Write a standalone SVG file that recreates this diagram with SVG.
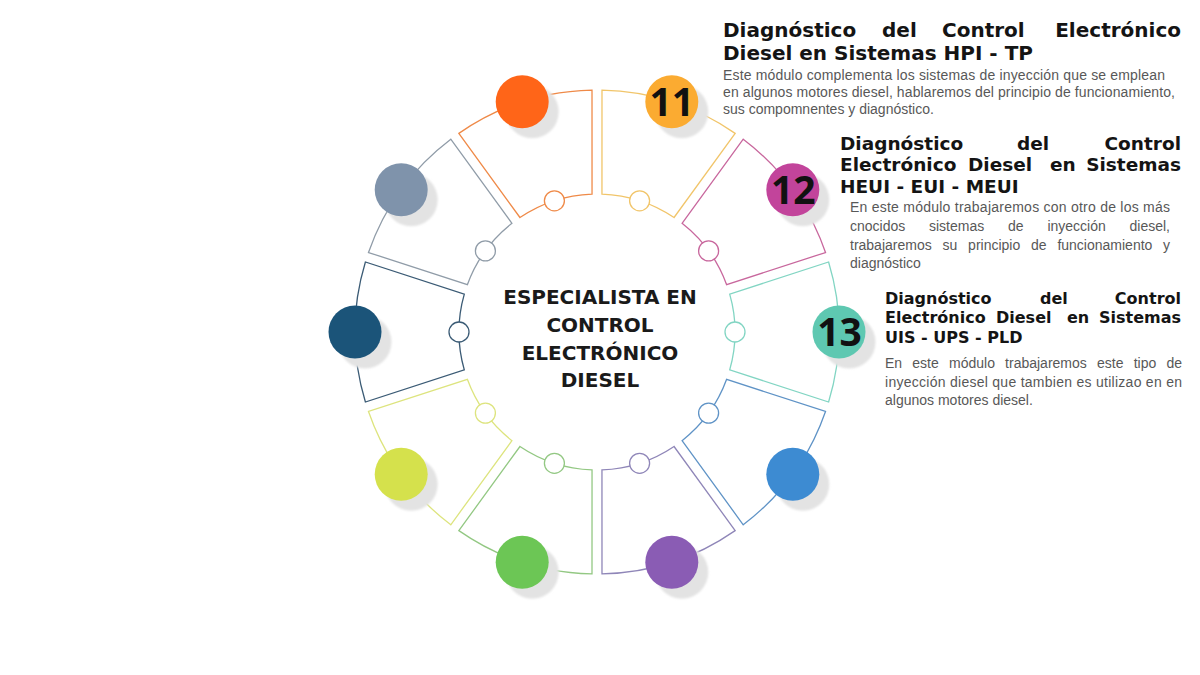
<svg xmlns="http://www.w3.org/2000/svg" xmlns:xlink="http://www.w3.org/1999/xlink" width="1200" height="675" viewBox="0 0 1200 675">
<style>
.seg{fill:none;stroke-width:1.3}
.shadow{fill:#e3e3e3}
.port{fill:#fff;stroke-width:1.3}
.num{font-family:"Open Sans","Liberation Sans",sans-serif;font-weight:700;font-size:39px;fill:#111;text-anchor:middle}
.title{font-family:"DejaVu Sans","Liberation Sans",sans-serif;font-weight:700;fill:#141414}
.t1{font-size:20px}
.t2{font-size:18.5px}
.t3{font-size:16px}
.end{text-anchor:end}
.body{font-family:"Liberation Sans",Arial,sans-serif;fill:#585858;font-size:14px}
.center{font-family:"DejaVu Sans","Liberation Sans",sans-serif;font-weight:700;font-size:20px;fill:#1a1a1a;text-anchor:middle}
</style>
<defs>
<path id="seg" d="M828.6 262 A242 242 0 0 1 828.6 402 L729.7 369.9 A138 138 0 0 0 729.7 294.1 Z"/>
<filter id="soft" x="-20%" y="-20%" width="140%" height="140%"><feGaussianBlur stdDeviation="1"/></filter>
</defs>
<rect width="1200" height="675" fill="#ffffff"/>
<g id="connectors"></g>

<g id="node-1">
<use xlink:href="#seg" class="seg" transform="rotate(-108 597 332)" stroke="#ef8a48"/>
<circle class="shadow" cx="532.2" cy="111.8" r="26.5" filter="url(#soft)"/>
<circle cx="522.2" cy="101.8" r="26.5" fill="#ff6518"/>
<circle class="port" cx="554.4" cy="200.8" r="10" stroke="#ef8a48"/>
</g>
<g id="node-11">
<use xlink:href="#seg" class="seg" transform="rotate(-72 597 332)" stroke="#f1c56a"/>
<circle class="shadow" cx="681.8" cy="111.8" r="26.5" filter="url(#soft)"/>
<circle cx="671.8" cy="101.8" r="26.5" fill="#fbab31"/>
<circle class="port" cx="639.6" cy="200.8" r="10" stroke="#f1c56a"/>
<text class="num" x="671.8" y="115.8">11</text>
</g>
<g id="node-12">
<use xlink:href="#seg" class="seg" transform="rotate(-36 597 332)" stroke="#c8679d"/>
<circle class="shadow" cx="802.8" cy="199.8" r="26.5" filter="url(#soft)"/>
<circle cx="792.8" cy="189.8" r="26.5" fill="#c2449b"/>
<circle class="port" cx="708.6" cy="250.9" r="10" stroke="#c8679d"/>
<text class="num" x="793.3" y="203.8">12</text>
</g>
<g id="node-13">
<use xlink:href="#seg" class="seg" stroke="#82d5c3"/>
<circle class="shadow" cx="849" cy="342" r="26.5" filter="url(#soft)"/>
<circle cx="839" cy="332" r="26.5" fill="#5ec8b1"/>
<circle class="port" cx="735" cy="332" r="10" stroke="#82d5c3"/>
<text class="num" x="839.5" y="346">13</text>
</g>
<g id="node-5">
<use xlink:href="#seg" class="seg" transform="rotate(36 597 332)" stroke="#5f93c6"/>
<circle class="shadow" cx="802.8" cy="484.3" r="26.5" filter="url(#soft)"/>
<circle cx="792.8" cy="474.3" r="26.5" fill="#3d8bd2"/>
<circle class="port" cx="708.6" cy="413.1" r="10" stroke="#5f93c6"/>
</g>
<g id="node-6">
<use xlink:href="#seg" class="seg" transform="rotate(72 597 332)" stroke="#8f86b8"/>
<circle class="shadow" cx="681.8" cy="572.2" r="26.5" filter="url(#soft)"/>
<circle cx="671.8" cy="562.2" r="26.5" fill="#8a5cb4"/>
<circle class="port" cx="639.6" cy="463.3" r="10" stroke="#8f86b8"/>
</g>
<g id="node-7">
<use xlink:href="#seg" class="seg" transform="rotate(108 597 332)" stroke="#93c883"/>
<circle class="shadow" cx="532.2" cy="572.2" r="26.5" filter="url(#soft)"/>
<circle cx="522.2" cy="562.2" r="26.5" fill="#6cc655"/>
<circle class="port" cx="554.4" cy="463.3" r="10" stroke="#93c883"/>
</g>
<g id="node-8">
<use xlink:href="#seg" class="seg" transform="rotate(144 597 332)" stroke="#dde47e"/>
<circle class="shadow" cx="411.2" cy="484.3" r="26.5" filter="url(#soft)"/>
<circle cx="401.2" cy="474.3" r="26.5" fill="#d5e14c"/>
<circle class="port" cx="485.4" cy="413.1" r="10" stroke="#dde47e"/>
</g>
<g id="node-9">
<use xlink:href="#seg" class="seg" transform="rotate(180 597 332)" stroke="#3b5b75"/>
<circle class="shadow" cx="365" cy="342" r="26.5" filter="url(#soft)"/>
<circle cx="355" cy="332" r="26.5" fill="#1b5479"/>
<circle class="port" cx="459" cy="332" r="10" stroke="#3b5b75"/>
</g>
<g id="node-10">
<use xlink:href="#seg" class="seg" transform="rotate(-144 597 332)" stroke="#909ca8"/>
<circle class="shadow" cx="411.2" cy="199.8" r="26.5" filter="url(#soft)"/>
<circle cx="401.2" cy="189.8" r="26.5" fill="#7f93ab"/>
<circle class="port" cx="485.4" cy="250.9" r="10" stroke="#909ca8"/>
</g>

<g id="center">
<text class="center" x="600" y="304">ESPECIALISTA EN</text>
<text class="center" x="600" y="332">CONTROL</text>
<text class="center" x="600" y="360">ELECTRÓNICO</text>
<text class="center" x="600" y="387">DIESEL</text>
</g>

<g id="desc-11">
<text class="title t1" y="36.5"><tspan x="723">Diagnóstico</tspan><tspan x="882">del</tspan><tspan x="942">Control</tspan></text>
<text class="title t1 end" x="1181" y="36.5">Electrónico</text>
<text class="title t1" x="723" y="59.5">Diesel en Sistemas HPI - TP</text>
<text class="body" x="723" y="80" textLength="442">Este módulo complementa los sistemas de inyección que se emplean</text>
<text class="body" x="723" y="97" textLength="452">en algunos motores diesel, hablaremos del principio de funcionamiento,</text>
<text class="body" x="723" y="114">sus compomnentes y diagnóstico.</text>
</g>

<g id="desc-12">
<text class="title t2" y="149.5"><tspan x="840">Diagnóstico</tspan><tspan x="1017">del</tspan></text>
<text class="title t2 end" x="1181" y="149.5">Control</text>
<text class="title t2" y="171"><tspan x="840">Electrónico</tspan><tspan x="968">Diesel</tspan><tspan x="1050">en</tspan></text>
<text class="title t2 end" x="1181" y="171">Sistemas</text>
<text class="title t2" x="840" y="192.5">HEUI - EUI - MEUI</text>
<text class="body" x="850" y="212" textLength="320">En este módulo trabajaremos con otro de los más</text>
<text class="body" y="231"><tspan x="850">cnocidos</tspan><tspan x="929">sistemas</tspan><tspan x="1008">de</tspan><tspan x="1047.4">inyección</tspan></text>
<text class="body end" x="1170" y="231">diesel,</text>
<text class="body" y="249.5"><tspan x="850">trabajaremos</tspan><tspan x="942.5">su</tspan><tspan x="968.1">principio</tspan><tspan x="1031">de</tspan><tspan x="1057.4">funcionamiento</tspan></text>
<text class="body end" x="1170" y="249.5">y</text>
<text class="body" x="850" y="267.5">diagnóstico</text>
</g>

<g id="desc-13">
<text class="title t3" y="303.5"><tspan x="885">Diagnóstico</tspan><tspan x="1040">del</tspan></text>
<text class="title t3 end" x="1181" y="303.5">Control</text>
<text class="title t3" y="323"><tspan x="885">Electrónico</tspan><tspan x="996">Diesel</tspan><tspan x="1067">en</tspan></text>
<text class="title t3 end" x="1181" y="323">Sistemas</text>
<text class="title t3" x="885" y="342.5">UIS - UPS - PLD</text>
<text class="body" y="368"><tspan x="885">En</tspan><tspan x="912.3">este</tspan><tspan x="949">módulo</tspan><tspan x="1005.1">trabajaremos</tspan><tspan x="1097">este</tspan><tspan x="1133.7">tipo</tspan></text>
<text class="body end" x="1182" y="368">de</text>
<text class="body" x="885" y="386.5" textLength="297">inyección diesel que tambien es utilizao en en</text>
<text class="body" x="885" y="405">algunos motores diesel.</text>
</g>
</svg>
